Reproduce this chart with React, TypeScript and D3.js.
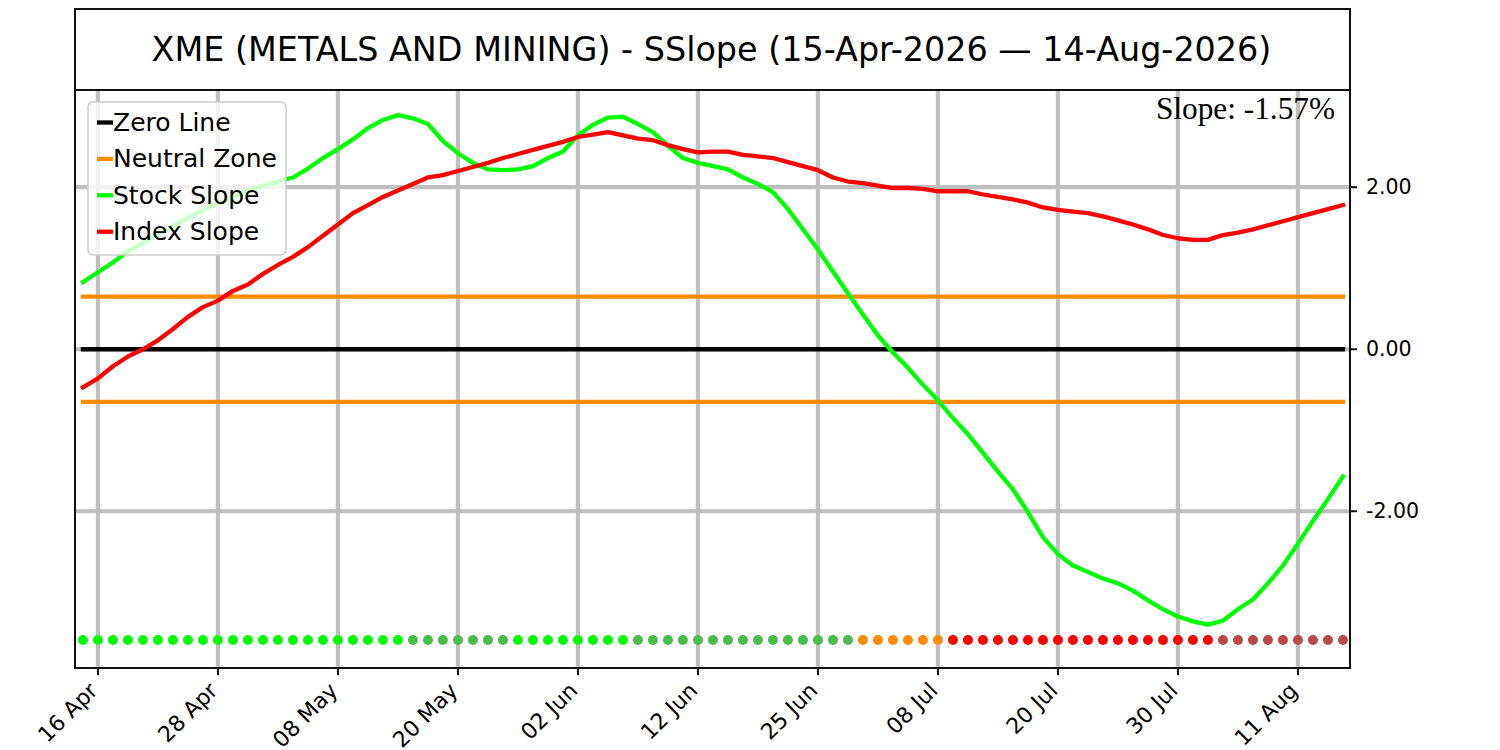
import React, { useEffect, useRef } from 'react';
import * as d3 from 'd3';

// trading-day index 0..84 (15 Apr 2026 .. 14 Aug 2026)
const stockSlope = [
  0.83, 0.95, 1.07, 1.21, 1.31, 1.42, 1.52, 1.62, 1.72, 1.8,
  1.88, 1.96, 2.02, 2.07, 2.12, 2.23, 2.36, 2.47, 2.59, 2.73,
  2.83, 2.89, 2.85, 2.78, 2.57, 2.42, 2.3, 2.22, 2.21, 2.22,
  2.26, 2.36, 2.44, 2.64, 2.77, 2.86, 2.87, 2.78, 2.68, 2.51,
  2.36, 2.3, 2.26, 2.22, 2.12, 2.04, 1.94, 1.73, 1.48, 1.23,
  0.96, 0.69, 0.43, 0.17, -0.04, -0.23, -0.44, -0.63, -0.85, -1.05,
  -1.28, -1.51, -1.73, -2.01, -2.32, -2.53, -2.67, -2.75, -2.83, -2.89,
  -2.98, -3.1, -3.21, -3.3, -3.36, -3.4, -3.35, -3.21, -3.09, -2.89,
  -2.67, -2.4, -2.12, -1.85, -1.57,
];

const indexSlope = [
  -0.47, -0.36, -0.21, -0.09, 0.0, 0.11, 0.25, 0.4, 0.52, 0.6,
  0.72, 0.8, 0.93, 1.04, 1.14, 1.26, 1.4, 1.54, 1.68, 1.78,
  1.88, 1.96, 2.04, 2.12, 2.15, 2.2, 2.25, 2.3, 2.36, 2.41,
  2.46, 2.51, 2.56, 2.62, 2.65, 2.68, 2.64, 2.6, 2.58, 2.52,
  2.47, 2.43, 2.44, 2.44, 2.4, 2.38, 2.36, 2.31, 2.26, 2.21,
  2.12, 2.07, 2.05, 2.02, 1.99, 1.99, 1.98, 1.95, 1.95, 1.95,
  1.91, 1.88, 1.85, 1.81, 1.75, 1.72, 1.7, 1.68, 1.64, 1.59,
  1.54, 1.48, 1.41, 1.37, 1.35, 1.35, 1.41, 1.44, 1.48, 1.53,
  1.58, 1.63, 1.68, 1.73, 1.78,
];

const tickIndex = [1, 9, 17, 25, 33, 41, 49, 57, 65, 73, 81];
const tickLabels = ['16 Apr', '28 Apr', '08 May', '20 May', '02 Jun', '12 Jun', '25 Jun', '08 Jul', '20 Jul', '30 Jul', '11 Aug'];
const yTicks = [-2, 0, 2];
const neutralBand = 0.65;
const dotLevel = -3.59;

const title = 'XME (METALS AND MINING) - SSlope (15-Apr-2026 \u2014 14-Aug-2026)';
const slopeNote = 'Slope: -1.57%';

const legendItems = [
  { label: 'Zero Line', color: '#000000' },
  { label: 'Neutral Zone', color: '#ff8c00' },
  { label: 'Stock Slope', color: '#00ff00' },
  { label: 'Index Slope', color: '#ff0000' },
];

const sans = 'DejaVu Sans, sans-serif';

function signalColor(i: number) {
  const v = stockSlope[i];
  const rising = i === 0 || v > stockSlope[i - 1];
  if (Math.abs(v) <= neutralBand) return '#ff8c00';
  if (v > 0) return rising ? '#00ff00' : '#4cbb4c';
  return rising ? '#b94a4a' : '#ff0000';
}

export default function App() {
  const svgRef = useRef<SVGSVGElement>(null);

  useEffect(() => {
    if (!svgRef.current) return;
    const root = d3.select(svgRef.current);
    root.selectAll('*').remove();

    const left = 75, right = 1350, top = 90, bottom = 668;
    const lw = 4.3;

    const x = d3.scaleLinear().domain([-0.53, 84.47]).range([left, right]);
    const y = d3.scaleLinear().domain([-3.935, 3.2]).range([bottom, top]);

    // title box
    root.append('rect')
      .attr('x', left).attr('y', 9)
      .attr('width', right - left).attr('height', top - 9)
      .attr('fill', 'white').attr('stroke', '#111').attr('stroke-width', 2);
    root.append('text')
      .attr('x', (left + right) / 2 - 1).attr('y', 49)
      .attr('text-anchor', 'middle').attr('dominant-baseline', 'central')
      .style('font-family', sans).style('font-size', '33.4px')
      .text(title);

    // grid
    root.append('g').selectAll('line').data(tickIndex).join('line')
      .attr('x1', d => x(d)).attr('x2', d => x(d))
      .attr('y1', top).attr('y2', bottom)
      .attr('stroke', '#bfbfbf').attr('stroke-width', 4.2);
    root.append('g').selectAll('line').data(yTicks).join('line')
      .attr('x1', left).attr('x2', right)
      .attr('y1', d => y(d)).attr('y2', d => y(d))
      .attr('stroke', '#bfbfbf').attr('stroke-width', 4.2);

    // zero + neutral lines
    const refLines = [
      { v: neutralBand, c: '#ff8c00' },
      { v: -neutralBand, c: '#ff8c00' },
      { v: 0, c: '#000000' },
    ];
    root.append('g').selectAll('line').data(refLines).join('line')
      .attr('x1', x(0)).attr('x2', x(stockSlope.length - 1))
      .attr('y1', d => y(d.v)).attr('y2', d => y(d.v))
      .attr('stroke', d => d.c).attr('stroke-width', lw)
      .attr('stroke-linecap', 'square');

    const line = d3.line<number>()
      .x((_, i) => x(i))
      .y(d => y(d));

    root.append('path').datum(stockSlope)
      .attr('d', line).attr('fill', 'none')
      .attr('stroke', '#00ff00').attr('stroke-width', lw)
      .attr('stroke-linejoin', 'round').attr('stroke-linecap', 'square');
    root.append('path').datum(indexSlope)
      .attr('d', line).attr('fill', 'none')
      .attr('stroke', '#ff0000').attr('stroke-width', lw)
      .attr('stroke-linejoin', 'round').attr('stroke-linecap', 'square');

    // signal dots
    root.append('g').selectAll('circle').data(stockSlope).join('circle')
      .attr('cx', (_, i) => x(i)).attr('cy', y(dotLevel))
      .attr('r', 5).attr('fill', (_, i) => signalColor(i));

    // frame
    root.append('rect')
      .attr('x', left).attr('y', top)
      .attr('width', right - left).attr('height', bottom - top)
      .attr('fill', 'none').attr('stroke', '#111').attr('stroke-width', 2);

    // x axis
    const xa = root.append('g');
    xa.selectAll('line').data(tickIndex).join('line')
      .attr('x1', d => x(d)).attr('x2', d => x(d))
      .attr('y1', bottom).attr('y2', bottom + 7)
      .attr('stroke', '#111').attr('stroke-width', 2);
    xa.selectAll('text').data(tickIndex).join('text')
      .attr('transform', d => `translate(${x(d) + 1},${bottom + 24}) rotate(-45)`)
      .attr('text-anchor', 'end')
      .style('font-family', sans).style('font-size', '22px')
      .text((_, i) => tickLabels[i]);

    // y axis (right)
    const ya = root.append('g');
    ya.selectAll('line').data(yTicks).join('line')
      .attr('x1', right).attr('x2', right + 7)
      .attr('y1', d => y(d)).attr('y2', d => y(d))
      .attr('stroke', '#111').attr('stroke-width', 2);
    ya.selectAll('text').data(yTicks).join('text')
      .attr('x', right + 16).attr('y', d => y(d))
      .attr('dominant-baseline', 'central')
      .style('font-family', sans).style('font-size', '20.5px')
      .text(d => d.toFixed(2));

    // slope note
    root.append('text')
      .attr('x', 1335).attr('y', 119)
      .attr('text-anchor', 'end')
      .style('font-family', 'Liberation Serif, Times New Roman, serif')
      .style('font-size', '31.3px')
      .text(slopeNote);

    // legend
    const lg = root.append('g');
    lg.append('rect')
      .attr('x', 88).attr('y', 102).attr('width', 198).attr('height', 153)
      .attr('rx', 5)
      .attr('fill', 'white').attr('fill-opacity', 0.8)
      .attr('stroke', '#cccccc').attr('stroke-width', 1.5);
    const rows = lg.selectAll('g').data(legendItems).join('g')
      .attr('transform', (_, i) => `translate(0,${122.5 + i * 36.4})`);
    rows.append('line')
      .attr('x1', 97).attr('x2', 113)
      .attr('stroke', d => d.color).attr('stroke-width', lw);
    rows.append('text')
      .attr('x', 113).attr('dominant-baseline', 'central')
      .style('font-family', sans).style('font-size', '25px')
      .text(d => d.label);
  }, []);

  return (
    <svg
      ref={svgRef}
      width={1500}
      height={750}
      style={{ position: 'absolute', left: 0, top: 0, background: 'white' }}
    />
  );
}
